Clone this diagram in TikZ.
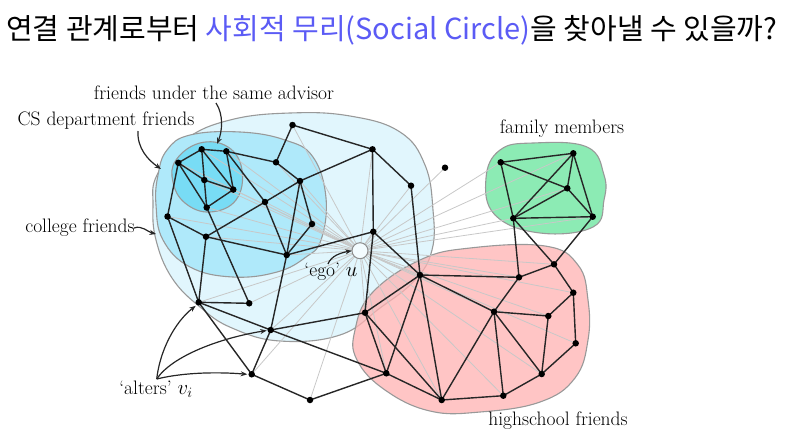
\documentclass[tikz,border=0pt]{standalone}
\usepackage{fontspec}
\newfontfamily\kr{Noto Sans CJK KR}
\usetikzlibrary{arrows.meta}
\definecolor{colbg}{HTML}{E1F6FD}
\definecolor{csbg}{HTML}{AFE9FA}
\definecolor{advbg}{HTML}{78DCF5}
\definecolor{pinkbg}{HTML}{FFB2B2}
\definecolor{famgr}{HTML}{8CEBB4}
\definecolor{titleblue}{HTML}{5B5BF5}
\definecolor{egoline}{HTML}{C8C8C8}
\tikzset{
  region/.style={draw=black!40, line width=1.1pt},
  dot/.style={circle, fill=black, inner sep=0pt, minimum size=6.5pt},
  edge/.style={draw=black!85, line width=1.4pt},
  egoedge/.style={draw=egoline, line width=0.8pt},
  lbl/.style={font=\fontsize{19.5}{22}\selectfont, inner sep=0pt},
  arr/.style={draw=black!85, line width=1.2pt, -{Stealth[length=6.5pt,width=5pt]}},
}
\begin{document}
\begin{tikzpicture}[x=1pt,y=-1pt]
\useasboundingbox (0,0) rectangle (789,432);
% title
\node[anchor=west, inner sep=0pt, font=\kr\fontsize{29}{33}\selectfont] (title) at (6,30)
  {연결 관계로부터 \textcolor{titleblue}{사회적 무리(Social Circle)}을 찾아낼 수 있을까?};
% regions
\fill[colbg] plot[smooth cycle, tension=0.7] coordinates {(157,175) (185,140) (230,120) (290,113) (350,116) (400,132) (425,165) (433,210) (432,250) (415,280) (380,308) (340,335) (280,341) (232,328) (200,307) (172,278) (156,240) (153,205)};
\draw[region] plot[smooth cycle, tension=0.7] coordinates {(157,175) (185,140) (230,120) (290,113) (350,116) (400,132) (425,165) (433,210) (432,250) (415,280) (380,308) (340,335) (280,341) (232,328) (200,307) (172,278) (156,240) (153,205)};
\path[region, fill=csbg] plot[smooth cycle, tension=0.7] coordinates {(167,150) (190,135) (240,132) (285,140) (313,157) (326,198) (321,240) (306,257) (277,272) (233,277) (190,267) (163,240) (156,205) (158,175)};
\path[region, fill=advbg] plot[smooth cycle, tension=0.7] coordinates {(176,160) (200,143) (228,147) (242,170) (236,200) (210,212) (185,203) (173,182)};
\path[region, fill=famgr] plot[smooth cycle, tension=0.7] coordinates {(486,178) (500,150) (533,143) (587,147) (604,175) (604,200) (593,227) (540,233) (495,215)};
\path[region, fill=pinkbg, fill opacity=0.75] plot[smooth cycle, tension=0.7] coordinates {(355,330) (372,293) (420,260) (470,248) (545,246) (578,265) (588,300) (588,340) (575,378) (540,402) (480,412) (430,411) (385,390) (357,360)};
% nodes
\foreach \n/\x/\y in {A1/201.7/149.3, A2/226.3/151.3, A3/178.3/162.8, A4/204.3/180, A5/233.3/189.6, A6/206.7/207.5,
  B1/292.5/125, B2/372.5/149.3, B3/276/162.3, B4/300/181, B5/265/202, B6/411/185.7, B7/167.5/216.5, B8/312/224,
  B9/206/236.7, B10/373.3/231.7, B11/286.7/255,
  C1/198.7/302.3, C2/249.2/303.3, C3/270.7/330, C4/251.7/374.3, C5/310/400,
  R1/420/275, R2/365/312.7, R3/386.3/373.3, R4/441.7/400, R5/519/277.3, R6/554/264.3, R7/573.3/292.7,
  R8/494/311.7, R9/548.3/316, R10/575.7/343.3, R11/541.7/374, R12/503.3/395.7,
  F1/500.7/162.3, F2/573.3/153.3, F3/567.3/188.3, F4/513.3/218.3, F5/592.7/216.7, I/445/167.7}
  {\coordinate (\n) at (\x,\y);}
\node[circle, minimum size=16pt, inner sep=0pt] (ego) at (360,250.7) {};
% ego lines
\foreach \n in {A1,A2,A3,A4,A5,A6,B1,B2,B3,B4,B5,B6,B7,B8,B9,B10,B11,C1,C2,C3,C4,C5,R1,R2,R3,R4,R5,R6,R7,R8,R9,R10,R11,R12,F1,F2,F3,F4,F5,I}
  {\draw[egoedge] (ego) -- (\n);}
\node[circle, draw=black!45, line width=1pt, fill=white!60!colbg, minimum size=16pt, inner sep=0pt] at (ego) {};
% edges
\foreach \a/\b in {A1/A2, A1/A3, A1/A4, A4/A6, A1/A5, A2/A5, A3/A4, A4/A5, A3/A6, A5/A6, A3/B7, A2/B3, A2/B5, A6/C2,
  B1/B2, B1/B3, B3/B4, B4/B2, B5/B4, B9/B5, B5/B11, B4/B11, B4/B8, B8/B11, B11/B10, B2/B10, B2/B6, B6/R1, B10/R1, B10/R2,
  B7/B9, B7/C1, B9/C1, B9/B11, B11/C3,
  C1/C2, C1/C3, C1/C4, C3/C4, C4/C5, C3/R2, C3/R3, C5/R3,
  R1/R2, R2/R3, R2/R4, R3/R1, R3/R4, R1/R4, R1/R8, R1/R5,
  R5/R6, R5/R8, R5/F4, R6/R7, R6/F4, R6/F5, R7/R9, R7/R10, R8/R9, R8/R12, R8/R11, R8/R4, R9/R11, R10/R11, R11/R12, R12/R4,
  F1/F2, F1/F3, F1/F4, F2/F3, F2/F4, F2/F5, F3/F4, F3/F5, F4/F5}
  {\draw[edge] (\a) -- (\b);}
\foreach \n in {A1,A2,A3,A4,A5,A6,B1,B2,B3,B4,B5,B6,B7,B8,B9,B10,B11,C1,C2,C3,C4,C5,R1,R2,R3,R4,R5,R6,R7,R8,R9,R10,R11,R12,F1,F2,F3,F4,F5,I}
  {\node[dot] at (\n) {};}
% labels
\node[lbl] (ladv) at (214,93) {friends under the same advisor};
\node[lbl] (lcs) at (106,121) {CS department friends};
\node[lbl] (lcol) at (80,228) {college friends};
\node[lbl] (lfam) at (562,129) {family members};
\node[lbl] (lhigh) at (558,421) {highschool friends};
\node[lbl] (lego) at (331,272) {`ego' $u$};
\node[lbl] (lalt) at (156,389) {`alters' $v_i$};
% arrows
\coordinate (advs) at (216,103);
\coordinate (adve) at (217,144);
\coordinate (css) at (138,131);
\coordinate (cse) at (161,169);
\coordinate (cols) at (134,228);
\coordinate (cole) at (156,234);
\coordinate (egos) at (328,264);
\coordinate (alts) at (156.7,379);
\draw[arr] (advs) .. controls (224,115) and (222,132) .. (adve);
\draw[arr] (css) .. controls (137,148) and (148,160) .. (cse);
\draw[arr] (cols) .. controls (142,225) and (148,232) .. (cole);
\draw[arr] (egos) .. controls (331,256) and (340,253) .. (ego.west);
\draw[arr] (alts) .. controls (160,350) and (175,322) .. ([shift={(-3,3.5)}]C1);
\draw[arr] (alts) .. controls (172,356) and (220,338) .. ([shift={(-4,0.5)}]C3);
\draw[arr] (alts) .. controls (185,372) and (220,372) .. ([shift={(-4.5,0)}]C4);
\end{tikzpicture}
\end{document}
